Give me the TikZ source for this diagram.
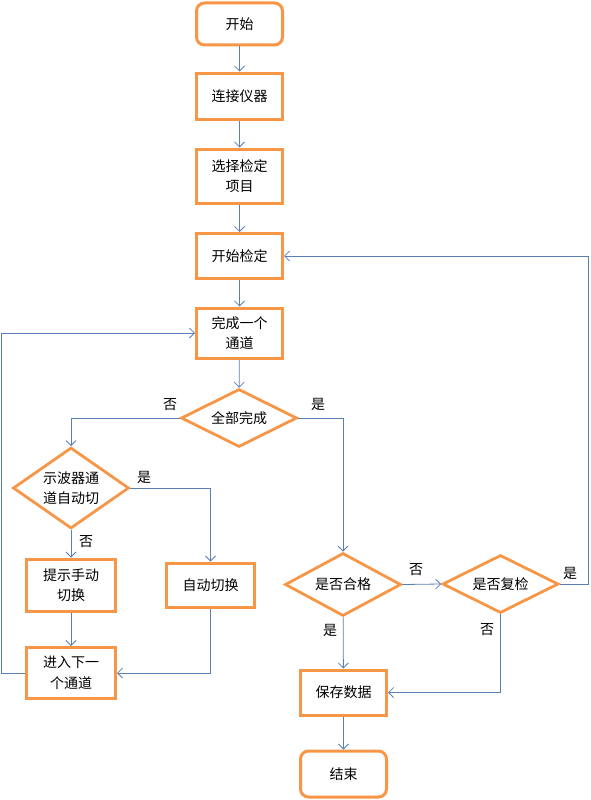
\documentclass[tikz,border=0pt]{standalone}
\usepackage{fontspec}
\usetikzlibrary{arrows.meta,shapes.geometric}
\newfontfamily\cjk{Noto Sans CJK SC}
\definecolor{BoxLine}{HTML}{F79646}
\definecolor{FlowLine}{HTML}{5A7FB5}
\tikzset{
  stepbox/.style={draw=BoxLine,line width=3pt,fill=white,minimum width=86pt,minimum height=45pt,inner sep=3pt,align=center},
  endbox/.style={stepbox,rounded corners=8pt},
  askbox/.style={draw=BoxLine,line width=2.8pt,fill=white,diamond,aspect=2,inner sep=0pt,align=center,minimum width=116pt,minimum height=58pt},
  flow/.style={draw=FlowLine,line width=0.8pt,-{Straight Barb[length=5pt,width=10pt]}},
  yn/.style={inner sep=1pt}
}
\newcommand{\YN}[4]{%
  \node[yn] (#1) at (#2,#3) {#4};%
}

\begin{document}
\begin{tikzpicture}[x=1pt,y=-1pt,font=\cjk\fontsize{14}{20.5}\selectfont]
\useasboundingbox (0,0) rectangle (590,800);
\node[endbox,minimum height=42pt] (kaishi) at (239.5,24) {开始};
\node[stepbox,minimum height=46pt] (lianjie) at (239.5,96) {连接仪器};
\node[stepbox,minimum height=54pt] (xuanze) at (239.5,176) {选择检定\\项目};
\node[stepbox] (kaishijd) at (239.5,256) {开始检定};
\node[stepbox,minimum height=50pt] (wancheng) at (239.5,333) {完成一个\\通道};
\node[askbox] (quanbu) at (239,418) {全部完成};
\node[askbox,minimum height=81pt,aspect=1.4] (shibo) at (71,488) {示波器通\\道自动切};
\node[stepbox,minimum height=52pt,minimum width=89pt] (tishi) at (71,585) {提示手动\\切换};
\node[stepbox,minimum height=44pt,minimum width=88pt] (zidong) at (210.5,585) {自动切换};
\node[stepbox,minimum height=51pt,minimum width=89pt] (jinru) at (71,673) {进入下一\\个通道};
\node[askbox,minimum height=63pt] (hege) at (343,584.5) {是否合格};
\node[askbox] (fujian) at (500.5,584) {是否复检};
\node[stepbox] (baocun) at (343.5,692.5) {保存数据};
\node[endbox,minimum height=46pt] (jieshu) at (343.5,774) {结束};

\draw[flow] (kaishi) -- (lianjie);
\draw[flow] (lianjie) -- (xuanze);
\draw[flow] (xuanze) -- (kaishijd);
\draw[flow] (kaishijd) -- (wancheng);
\draw[flow] (wancheng) -- (quanbu);
\draw[flow] (quanbu.west) -| (shibo.north);
\draw[flow] (quanbu.east) -| (hege.north);
\draw[flow] (shibo.east) -| (zidong.north);
\draw[flow] (shibo) -- (tishi);
\draw[flow] (tishi) -- (jinru);
\draw[flow] (zidong.south) |- (jinru.east);
\draw[flow] (jinru.west) -- ++(-23.5,0) |- (wancheng.west);
\draw[flow] (hege.east) -- (fujian.west);
\draw[flow] (hege) -- (baocun);
\draw[flow] (fujian.east) -- ++(28.5,0) |- (kaishijd.east);
\draw[flow] (fujian.south) |- (baocun.east);
\draw[flow] (baocun) -- (jieshu);

\YN{noA}{170}{405}{否}
\YN{yesA}{318}{404}{是}
\YN{yesB}{144}{477}{是}
\YN{noB}{86}{542}{否}
\YN{noC}{416}{570}{否}
\YN{yesC}{330}{630}{是}
\YN{yesD}{570}{573}{是}
\YN{noD}{487}{630}{否}
\end{tikzpicture}
\end{document}
